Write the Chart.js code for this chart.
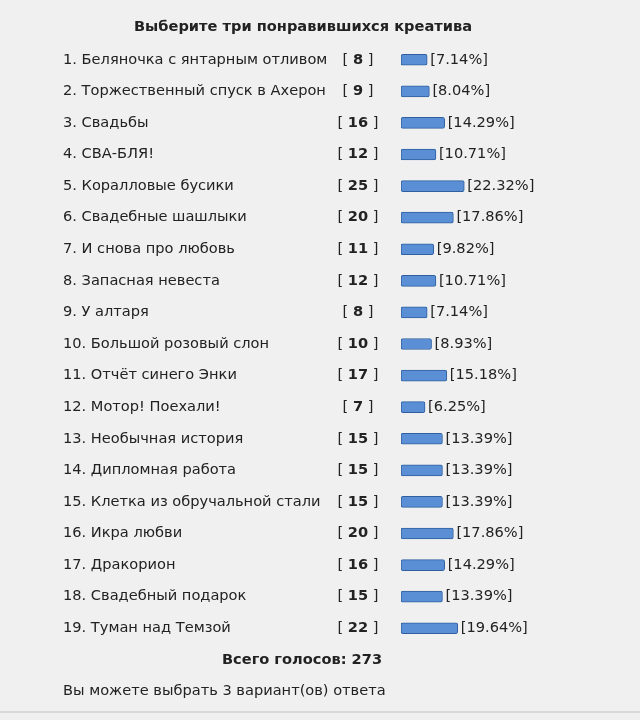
<!DOCTYPE html>
<html><head><meta charset="utf-8">
<script src="https://cdn.jsdelivr.net/npm/chart.js@4"></script>
<style>html,body{margin:0;padding:0;background:#f0f0f0;}#w{width:640px;height:720px;position:relative}</style>
</head><body><div id="w"><canvas id="c" width="640" height="720"></canvas></div>
<script>
const title = "Выберите три понравившихся креатива";
const categories = ["1. Беляночка с янтарным отливом","2. Торжественный спуск в Ахерон","3. Свадьбы","4. СВА-БЛЯ!","5. Коралловые бусики","6. Свадебные шашлыки","7. И снова про любовь","8. Запасная невеста","9. У алтаря","10. Большой розовый слон","11. Отчёт синего Энки","12. Мотор! Поехали!","13. Необычная история","14. Дипломная работа","15. Клетка из обручальной стали","16. Икра любви","17. Дракорион","18. Свадебный подарок","19. Туман над Темзой"];
const votes = [8,9,16,12,25,20,11,12,8,10,17,7,15,15,15,20,16,15,22];
const percents = ["7.14%","8.04%","14.29%","10.71%","22.32%","17.86%","9.82%","10.71%","7.14%","8.93%","15.18%","6.25%","13.39%","13.39%","13.39%","17.86%","14.29%","13.39%","19.64%"];
const totalText = "Всего голосов: 273";
const noteText = "Вы можете выбрать 3 вариант(ов) ответа";
const BASE = -4;
const FONT = "DejaVu Sans";
const FS = "14.6px";
const textPlugin = {
  id:'txt',
  afterDatasetsDraw(chart){
    const ctx = chart.ctx, y = chart.scales.y, meta = chart.getDatasetMeta(0);
    const R = FS+" '"+FONT+"'", B = "bold "+FS+" '"+FONT+"'";
    ctx.save();
    ctx.fillStyle = "#222";
    ctx.textBaseline = "middle";
    ctx.font = B;
    ctx.textAlign = "center";
    ctx.fillText(title, 303, 27);
    categories.forEach((c,i)=>{
      const py = y.getPixelForValue(i);
      ctx.font = R; ctx.textAlign="left";
      ctx.fillText(c, 63, py);
      const n = String(votes[i]);
      const bw = ctx.measureText("[ ").width;
      ctx.font = B;
      const nw = ctx.measureText(n).width;
      ctx.font = R;
      const ew = ctx.measureText(" ]").width;
      let x0 = 358 - (bw+nw+ew)/2;
      ctx.fillText("[ ", x0, py);
      ctx.font = B; ctx.fillText(n, x0+bw, py);
      ctx.font = R; ctx.fillText(" ]", x0+bw+nw, py);
      const bar = meta.data[i];
      ctx.fillText("[" + percents[i] + "]", bar.x + 3, py);
    });
    ctx.font = B; ctx.textAlign="center";
    ctx.fillText(totalText, 302, 660);
    ctx.font = R; ctx.textAlign="left";
    ctx.fillText(noteText, 63, 691);
    ctx.strokeStyle="#d8d8d8"; ctx.lineWidth=2;
    ctx.beginPath(); ctx.moveTo(0,712); ctx.lineTo(640,712); ctx.stroke();
    ctx.restore();
  }
};
const ctx = document.getElementById('c').getContext('2d');
new Chart(ctx,{
  type:'bar',
  data:{labels:categories,datasets:[{
    data: votes.map(v=>[BASE,v]),
    backgroundColor(c){
      const el=c.element; if(!el||el.y===undefined) return "#5a8fd6";
      const g=c.chart.ctx.createLinearGradient(0,el.y-6,0,el.y+6);
      g.addColorStop(0,"#a3c4ee");g.addColorStop(0.5,"#5d93da");g.addColorStop(1,"#3f74c0");
      return g;
    },
    borderColor:"#2f5f9e",borderWidth:1,borderRadius:2,borderSkipped:false,
    barThickness:11
  }]},
  options:{
    indexAxis:'y',responsive:false,animation:false,
    layout:{padding:{left:401,right:12,top:44,bottom:76}},
    plugins:{legend:{display:false},tooltip:{enabled:false}},
    scales:{
      x:{display:false,min:BASE,max:100},
      y:{display:false,offset:true}
    }
  },
  plugins:[textPlugin]
});
</script></body></html>
